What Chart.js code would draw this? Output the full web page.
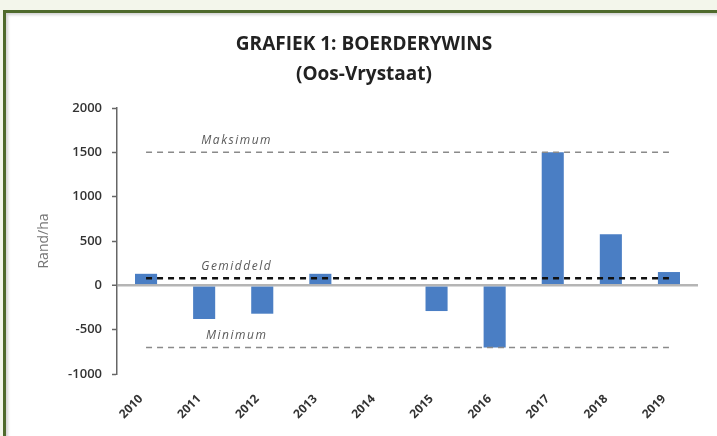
<!DOCTYPE html>
<html>
<head>
<meta charset="utf-8">
<script src="https://cdn.jsdelivr.net/npm/chart.js@4/dist/chart.umd.min.js"></script>
<style>
  html, body { margin: 0; padding: 0; }
  body { width: 717px; height: 436px; background: #f3f6eb; position: relative; overflow: hidden; }
  #frame {
    position: absolute; left: 3px; top: 10px; width: 730px; height: 440px;
    background: #fff; border-left: 3px solid #4f6a2c; border-top: 3px solid #4f6a2c;
    box-shadow: inset 2px 2px 3px rgba(0,0,0,0.18);
  }
  #wrap { position: absolute; left: 0; top: 0; width: 717px; height: 436px; }
</style>
</head>
<body>
<div id="frame"></div>
<div id="wrap"><canvas id="myChart"></canvas></div>
<script>
// data
const years = ['2010', '2011', '2012', '2013', '2014', '2015', '2016', '2017', '2018', '2019'];
const winsValues = [130, -380, -320, 130, 0, -290, -700, 1500, 575, 150];
const refLabels = ['Maksimum', 'Gemiddeld', 'Minimum'];
const refValues = [1500, 80, -700];
const yTicks = [2000, 1500, 1000, 500, 0, -500, -1000];

const refColors = ['#8a8a8a', '#111111', '#8a8a8a'];
const refWidths = [1.5, 2.5, 1.5];

// Lyne vir maksimum / gemiddeld / minimum
const refSets = refLabels.map(function (name, i) {
    return {
        type: 'line',
        label: name,
        data: years.map(() => refValues[i]),
        borderColor: refColors[i],
        borderWidth: refWidths[i],
        borderDash: [6, 5],
        pointRadius: 0,
        fill: false,
        order: 1
    };
});

// Teks bo-op die lyne
const refText = {
    id: 'refText',
    afterDatasetsDraw(chart) {
        const { ctx, scales: { x, y } } = chart;
        ctx.save();
        ctx.font = 'italic 12px "Open Sans"';
        ctx.letterSpacing = '1.5px';
        ctx.fillStyle = '#5a5a5a';
        ctx.textAlign = 'center';
        ctx.textBaseline = 'middle';
        const cx = x.getPixelForValue(1.56);
        refLabels.forEach((t, i) => {
            ctx.fillText(t, cx, y.getPixelForValue(refValues[i]) - 12);
        });
        ctx.restore();
    }
};

new Chart(document.getElementById('myChart'), {
    type: 'bar',
    data: {
        labels: years,
        datasets: [
            ...refSets,
            {
                label: 'Boerderywins',
                data: winsValues,
                backgroundColor: '#4a7ec4',
                barPercentage: 0.38,
                categoryPercentage: 1,
                order: 2
            }
        ]
    },
    plugins: [refText],
    options: {
        animation: false,
        responsive: true,
        maintainAspectRatio: false,
        layout: { padding: { left: 30, right: 19, top: 0, bottom: 0 } },
        plugins: {
            legend: { display: false },
            tooltip: { enabled: false },
            title: {
                display: true,
                text: ['GRAFIEK 1: BOERDERYWINS', '(Oos-Vrystaat)'],
                color: '#222',
                font: { family: 'Open Sans', size: 19, weight: 'bold', lineHeight: '30px' },
                padding: { top: 30, bottom: 18 }
            }
        },
        scales: {
            x: {
                grid: { display: false },
                border: { display: false },
                ticks: {
                    color: '#333',
                    font: { family: 'Open Sans', size: 12, weight: 'bold' },
                    maxRotation: 45, minRotation: 45,
                    padding: 10,
                    labelOffset: -5
                },
                afterFit: (s) => { s.height = 62; }
            },
            y: {
                min: -1000, max: 2000,
                afterBuildTicks: (s) => { s.ticks = yTicks.map(v => ({ value: v })); },
                afterFit: (s) => { s.width = 117 - 30; },
                border: { display: true, color: '#666', width: 1.5 },
                grid: {
                    drawOnChartArea: true,
                    color: (c) => c.tick && c.tick.value === 0 ? '#b5b5b5' : 'transparent',
                    lineWidth: (c) => c.tick && c.tick.value === 0 ? 2.5 : 1,
                    tickColor: '#666',
                    tickWidth: 1.5,
                    tickLength: 5
                },
                ticks: {
                    color: '#333',
                    font: { family: 'Open Sans', size: 13, weight: 600 },
                    padding: 10,
                    callback: (v) => String(v)
                },
                title: {
                    display: true,
                    text: 'Rand/ha',
                    color: '#777',
                    font: { family: 'Open Sans', size: 14 },
                    padding: { top: 6, bottom: 0 }
                }
            }
        }
    }
});
</script>
</body>
</html>
